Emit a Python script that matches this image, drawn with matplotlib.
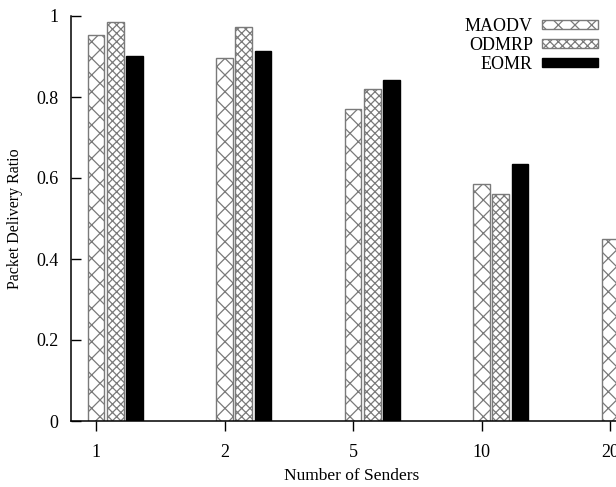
import numpy as np
import matplotlib
matplotlib.use("Agg")
import matplotlib.pyplot as plt

# -------------------------------------------------
# Data (group "20" is cut at the right edge,
# only the MAODV bar is visible there)
# -------------------------------------------------
senders = ["1", "2", "5", "10", "20"]
maodv = [0.953, 0.897, 0.770, 0.584, 0.449]
odmrp = [0.986, 0.974, 0.820, 0.560]
eomr = [0.902, 0.914, 0.841, 0.634]

plt.rcParams["font.family"] = ["Liberation Serif", "DejaVu Serif"]
plt.rcParams["hatch.linewidth"] = 0.9

W, H = 616, 487
fig = plt.figure(figsize=(W / 100, H / 100), dpi=100)

# axes placed in pixels; it runs past the right edge like the reference
left_px, right_px, top_px, bottom_px = 70.7, 633.5, 16, 421
ax = fig.add_axes([left_px / W, 1 - bottom_px / H,
                   (right_px - left_px) / W, (bottom_px - top_px) / H])

step = 128.5  # pixels per group
x0 = -(96 - left_px) / step
x1 = x0 + (right_px - left_px) / step
ax.set_xlim(x0, x1)
ax.set_ylim(0, 1)

width = 0.13
gray = "#7a7a7a"
xs = np.arange(len(senders))

ax.bar(xs[:len(maodv)], maodv, width, color="white", edgecolor=gray,
       hatch="xx", linewidth=1.0, label="MAODV")
ax.bar(xs[:len(odmrp)] + 0.15, odmrp, width, color="white", edgecolor=gray,
       hatch="xxxx", linewidth=1.0, label="ODMRP")
ax.bar(xs[:len(eomr)] + 0.30, eomr, width, color="black", edgecolor="black",
       linewidth=1.0, label="EOMR")

# -------------------------------------------------
# Axes styling (gnuplot-like)
# -------------------------------------------------
ax.spines["top"].set_visible(False)
ax.spines["right"].set_visible(False)
for s in ("left", "bottom"):
    ax.spines[s].set_linewidth(1.1)

ax.set_xticks(xs)
ax.set_xticklabels(senders)
ax.set_yticks([0, 0.2, 0.4, 0.6, 0.8, 1.0])
ax.set_yticklabels(["0", "0.2", "0.4", "0.6", "0.8", "1"])
ax.tick_params(axis="y", direction="in", length=7.5, width=1.0,
               labelsize=13, pad=9)
ax.tick_params(axis="x", direction="out", length=7.5, width=1.0,
               labelsize=13, pad=9)

ax.set_xlabel("Number of Senders", fontsize=12.5, labelpad=5)
ax.set_ylabel("Packet Delivery Ratio", fontsize=11.5, labelpad=9)

fs = 13
leg = ax.legend(loc="upper right", bbox_to_anchor=(598 / W, 1 - 18 / H),
                bbox_transform=fig.transFigure, frameon=False,
                markerfirst=False, fontsize=fs, handlelength=3.1,
                handleheight=0.4, handletextpad=0.5, labelspacing=0.1,
                borderpad=0, borderaxespad=0)

fig.savefig("out.png", dpi=100)
